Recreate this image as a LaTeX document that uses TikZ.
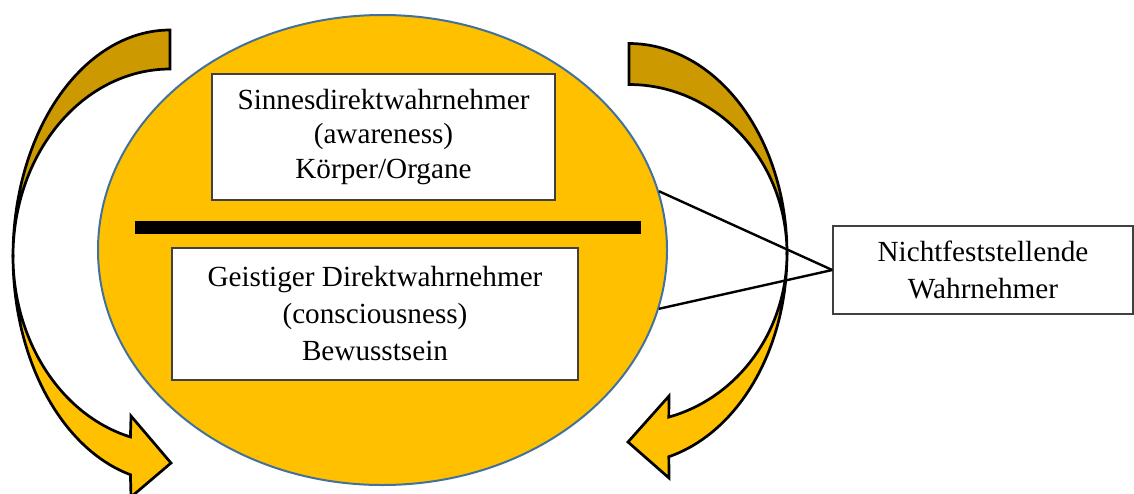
\documentclass[tikz,border=0pt]{standalone}
\usepackage{fontspec}
\setmainfont{Liberation Serif}
\usetikzlibrary{shapes.geometric}
\definecolor{gold}{RGB}{255,192,0}
\definecolor{darkgold}{RGB}{204,153,0}
\definecolor{ellborder}{RGB}{65,113,156}
\begin{document}
\begin{tikzpicture}[x=0.5pt,y=-0.5pt,
  curvedarrow/.style={draw=black, line width=1.35pt, line join=miter},
  textbox/.style={draw=black!75, line width=0.75pt, fill=white, align=center, inner sep=0pt},
  connector/.style={draw=black, line width=1.2pt}]
\useasboundingbox (0,0) rectangle (1134,493);
\clip (0,0) rectangle (1134,493);
% left curved arrow
\filldraw[curvedarrow, fill=darkgold]
  plot[domain=270:180,samples=70] ({170+157*cos(\x)},{256+226*sin(\x)})
  -- plot[domain=180:270,samples=70] ({170+157*cos(\x)},{256+187*sin(\x)}) -- cycle;
\filldraw[curvedarrow, fill=gold]
  plot[domain=180:104.6,samples=70] ({170+157*cos(\x)},{256+226*sin(\x)})
  -- (131,497) -- (171,463) -- (131,416)
  -- plot[domain=104.6:180,samples=70] ({170+157*cos(\x)},{256+187*sin(\x)}) -- cycle;
% right curved arrow
\filldraw[curvedarrow, fill=darkgold]
  plot[domain=270:360,samples=70] ({629+158*cos(\x)},{253.5+210*sin(\x)})
  -- plot[domain=360:270,samples=70] ({629+158*cos(\x)},{253.5+169*sin(\x)}) -- cycle;
\filldraw[curvedarrow, fill=gold]
  plot[domain=0:75.4,samples=70] ({629+158*cos(\x)},{253.5+210*sin(\x)})
  -- (669,478) -- (628,442) -- (669,396)
  -- plot[domain=75.4:0,samples=70] ({629+158*cos(\x)},{253.5+169*sin(\x)}) -- cycle;
% central ellipse
\node[ellipse, draw=ellborder, line width=1pt, fill=gold, minimum width=284.5pt,
      minimum height=235pt, inner sep=0pt] (ell) at (382.5,250) {};
\node[fill=black, minimum width=253pt, minimum height=6.5pt, inner sep=0pt] (bar) at (388,227.5) {};
\node[textbox, minimum width=171.5pt, minimum height=63pt,
      font=\fontsize{14.6}{17.25}\selectfont] (sense) at (383.5,137)
  {Sinnesdirektwahrnehmer\\(awareness)\\Körper/Organe};
\node[textbox, minimum width=203pt, minimum height=66pt,
      font=\fontsize{14.6}{18.5}\selectfont] (mind) at (375,314)
  {Geistiger Direktwahrnehmer\\(consciousness)\\Bewusstsein};
\node[textbox, minimum width=150pt, minimum height=44pt,
      font=\fontsize{14.6}{18.5}\selectfont] (nf) at (983,270)
  {Nichtfeststellende\\Wahrnehmer};
\draw[connector] (ell.12.6) -- (nf.west);
\draw[connector] (ell.-12.4) -- (nf.west);
\end{tikzpicture}
\end{document}
